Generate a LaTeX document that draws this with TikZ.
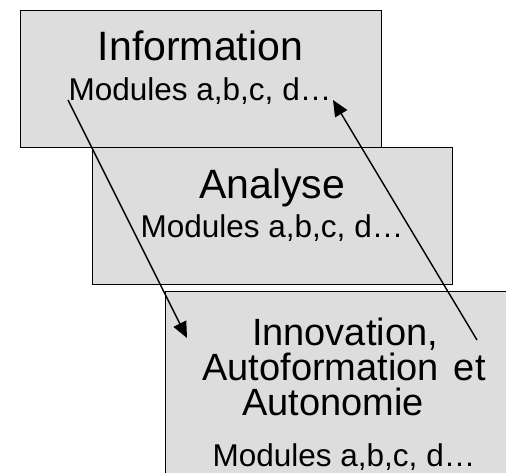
\documentclass[tikz,border=0pt]{standalone}
\usepackage{fontspec}
\setmainfont{Liberation Sans}
\usetikzlibrary{arrows.meta}
\definecolor{boxgray}{RGB}{221,221,221}
\begin{document}
\begin{tikzpicture}[x=1pt,y=-1pt,
  panel/.style={draw=black,line width=1.4pt,fill=boxgray,anchor=north west,inner sep=0pt},
  big/.style={font=\fontsize{41}{41}\selectfont,anchor=base,inner sep=0pt},
  mid/.style={font=\fontsize{38}{38}\selectfont,anchor=base,inner sep=0pt},
  small/.style={font=\fontsize{31.5}{31.5}\selectfont,anchor=base,inner sep=0pt},
  link/.style={line width=1.4pt,-{Triangle[length=16pt,width=14pt]}}]
\useasboundingbox (0,0) rectangle (506,472);
\clip (0,0) rectangle (506,472);
\fill[white] (0,0) rectangle (506,472);
% boxes
\node[panel,minimum width=361pt,minimum height=137pt] (info) at (20,10) {};
\node[panel,minimum width=360pt,minimum height=137pt] (ana) at (92,147) {};
\node[panel,minimum width=370pt,minimum height=200pt] (inno) at (165,291) {};
% texts
\node[big] (t1) at (200.5,60) {Information};
\node[small] (m1) at (200,100) {Modules a,b,c, d\ldots};
\node[big] (t2) at (272,198) {Analyse};
\node[small] (m2) at (272,237) {Modules a,b,c, d\ldots};
\node[mid] (t3a) at (345,345) {Innovation,};
\node[mid] (t3b) at (344,380) {Autoformation\hspace{0.4em}et};
\node[mid] (t3c) at (333,415) {Autonomie};
\node[small] (m3) at (344,466) {Modules a,b,c, d\ldots};
% connectors
\coordinate (a1s) at (68,100);
\coordinate (a1e) at (187,338);
\coordinate (a2s) at (477,340);
\coordinate (a2e) at (333,100);
\draw[link] (a1s) -- (a1e);
\draw[link] (a2s) -- (a2e);
\end{tikzpicture}
\end{document}
